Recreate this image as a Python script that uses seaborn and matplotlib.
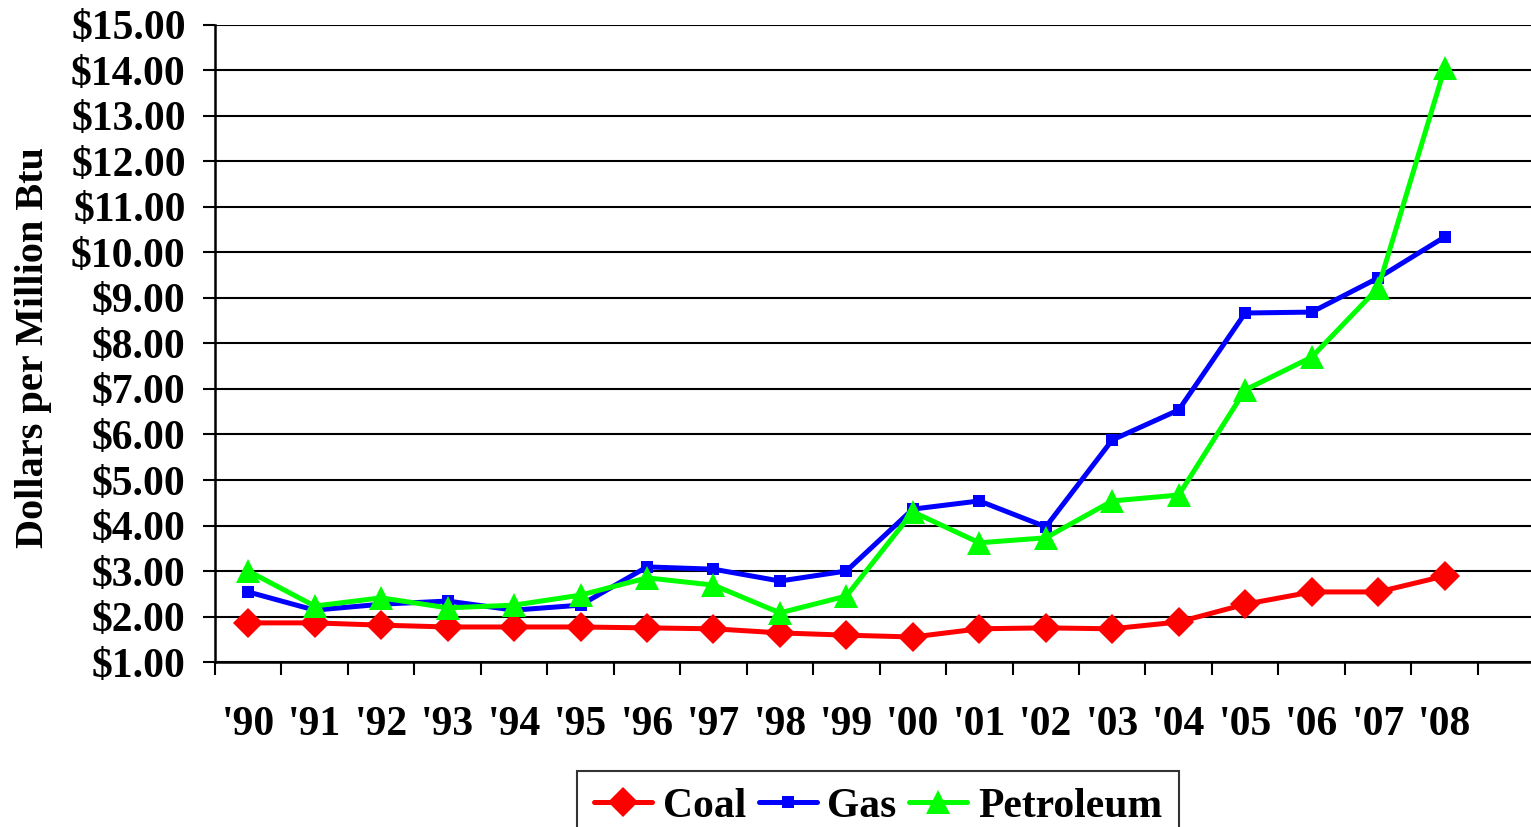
import matplotlib
matplotlib.use("Agg")
import matplotlib.pyplot as plt
import seaborn as sns
import pandas as pd
import numpy as np
from matplotlib.ticker import FixedLocator, FuncFormatter

years = ["'90", "'91", "'92", "'93", "'94", "'95", "'96", "'97", "'98", "'99",
         "'00", "'01", "'02", "'03", "'04", "'05", "'06", "'07", "'08"]
coal = [1.86, 1.86, 1.81, 1.77, 1.77, 1.77, 1.75, 1.73, 1.64, 1.59,
        1.55, 1.73, 1.75, 1.73, 1.88, 2.27, 2.54, 2.54, 2.89]
gas = [2.54, 2.14, 2.27, 2.34, 2.14, 2.25, 3.09, 3.04, 2.78, 3.00,
       4.36, 4.54, 3.97, 5.88, 6.54, 8.67, 8.69, 9.44, 10.34]
petroleum = [3.00, 2.23, 2.41, 2.19, 2.25, 2.47, 2.85, 2.69, 2.08, 2.45,
             4.30, 3.62, 3.73, 4.54, 4.67, 6.98, 7.70, 9.22, 14.05]

sns.set_theme(style="white")
plt.rcParams['font.family'] = ['Liberation Serif', 'DejaVu Serif']
plt.rcParams['font.weight'] = 'bold'
plt.rcParams['text.color'] = 'black'
plt.rcParams['xtick.color'] = 'black'
plt.rcParams['ytick.color'] = 'black'
plt.rcParams['axes.labelcolor'] = 'black'

fig = plt.figure(figsize=(15.31, 8.27), dpi=100)
ax = fig.add_axes([0.1404, 0.1995, 0.8596, 0.7703])

x = np.arange(len(years))
series = [
    ("Coal", coal, "#ff0000", "D", 15),
    ("Gas", gas, "#0000ff", "s", 9),
    ("Petroleum", petroleum, "#00ff00", "^", 17),
]
for name, vals, color, marker, ms in series:
    df = pd.DataFrame({"x": x, "y": vals})
    sns.lineplot(data=df, x="x", y="y", ax=ax, color=color, linewidth=3.6,
                 marker=marker, markersize=ms, markeredgewidth=0,
                 markeredgecolor=color, label=name)

ax.set_ylim(1, 15)
ax.set_xlim(-0.5, 19.3)
ax.yaxis.set_major_locator(FixedLocator(np.arange(1, 16, 1)))
ax.yaxis.set_major_formatter(FuncFormatter(lambda v, p: f"${v:.2f}"))
ax.set_xticks(x)
ax.set_xticklabels(years)
ax.set_xticks(np.arange(-0.5, 19.0, 1.0), minor=True)

ax.grid(axis='y', color='black', linewidth=1.5)
ax.grid(axis='x', visible=False)
ax.set_axisbelow(True)

for s in ['top', 'right']:
    ax.spines[s].set_visible(False)
for s in ['left', 'bottom']:
    ax.spines[s].set_color('black')
    ax.spines[s].set_linewidth(1.8)

ax.tick_params(axis='y', which='major', direction='out', length=9, width=1.5,
               color='black', pad=12, labelsize=30, left=True, labelcolor='black')
ax.tick_params(axis='x', which='major', length=0, pad=32, labelsize=30,
               labelcolor='black')
ax.tick_params(axis='x', which='minor', direction='out', length=9, width=1.5,
               color='black', bottom=True)
for lab in ax.get_xticklabels() + ax.get_yticklabels():
    lab.set_fontweight('bold')

ax.set_xlabel("")
ax.set_ylabel("Dollars per Million Btu", fontsize=29, fontweight='bold',
              color='black')
ax.yaxis.set_label_coords(-0.1235, 0.493)

leg = ax.legend(loc='upper center', bbox_to_anchor=(0.5735, 0.0675),
                bbox_transform=fig.transFigure, ncol=3, frameon=True,
                fancybox=False, edgecolor='black', fontsize=30,
                handlelength=1.4, handletextpad=0.25, columnspacing=0.3,
                borderpad=0.4, borderaxespad=0)
leg.get_frame().set_linewidth(1.5)
for t in leg.get_texts():
    t.set_fontweight('bold')
    t.set_color('black')

fig.savefig("out.png", dpi=100)
